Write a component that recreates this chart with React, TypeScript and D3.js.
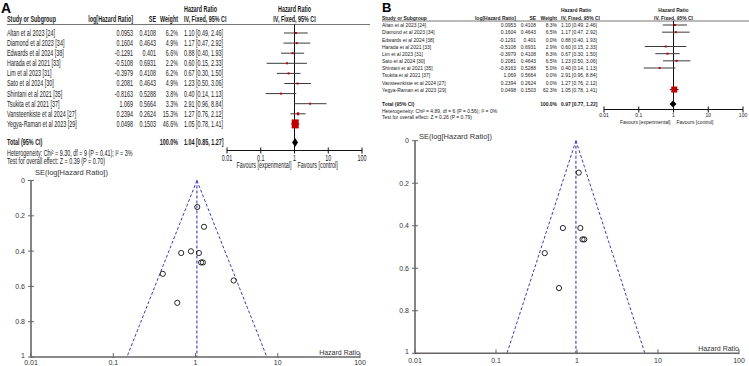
import React from "react";
import * as d3 from "d3";

// study level data, shared by both panels
const studies = [
  "Altan et al 2023 [24]",
  "Diamond et al 2023 [34]",
  "Edwards et al 2024 [38]",
  "Harada et al 2021 [33]",
  "Lim et al 2023 [31]",
  "Sato et al 2024 [30]",
  "Shintani et al  2021 [35]",
  "Tsukita et al 2021 [37]",
  "Vansteenkiste et al 2024 [27]",
  "Yegya-Raman et al  2023 [29]",
];
const logHR = [0.0953, 0.1604, -0.1291, -0.5108, -0.3979, 0.2081, -0.8163, 1.069, 0.2394, 0.0498];
const seValues = [0.4108, 0.4643, 0.401, 0.6931, 0.4108, 0.4643, 0.5288, 0.5664, 0.2624, 0.1503];
const hr = [1.1, 1.17, 0.88, 0.6, 0.67, 1.23, 0.4, 2.91, 1.27, 1.05];
const hrLow = [0.49, 0.47, 0.4, 0.15, 0.3, 0.5, 0.14, 0.96, 0.76, 0.78];
const hrHigh = [2.46, 2.92, 1.93, 2.33, 1.5, 3.06, 1.13, 8.84, 2.12, 1.41];
const weightA = [6.2, 4.9, 6.6, 2.2, 6.2, 4.9, 3.8, 3.3, 15.3, 46.6];
const weightB = [8.3, 6.5, 0, 2.9, 8.3, 6.5, 5.0, 0, 0, 62.3];

// pooled estimate [HR, lower, upper]
const pooledA = [1.04, 0.85, 1.27];
const pooledB = [0.97, 0.77, 1.22];
const statsA = [
  "Heterogeneity: Chi\u00b2 = 9.30, df = 9 (P = 0.41); I\u00b2 = 3%",
  "Test for overall effect: Z = 0.39 (P = 0.70)",
];
const statsB = [
  "Heterogeneity: Chi\u00b2 = 4.89, df = 6 (P = 0.56); I\u00b2 = 0%",
  "Test for overall effect: Z = 0.26 (P = 0.79)",
];

const hrTicks = [0.01, 0.1, 1, 10, 100];
const seTicks = [0, 0.2, 0.4, 0.6, 0.8, 1];

const FONT = "'Liberation Sans', Arial, sans-serif";
const fmt2 = d3.format(".2f");
const fmtTick = (v: number) => (v < 1 ? String(v) : d3.format("d")(v));

type TxtProps = {
  x: number;
  y: number;
  fs: number;
  sx?: number;
  anchor?: "start" | "middle" | "end";
  bold?: boolean;
  fill?: string;
  children: React.ReactNode;
};

const Txt = ({ x, y, fs, sx = 1, anchor = "start", bold = false, fill = "#1a1a1a", children }: TxtProps) => (
  <text
    transform={`translate(${x},${y}) scale(${sx},1)`}
    fontSize={fs}
    fontFamily={FONT}
    textAnchor={anchor}
    dominantBaseline="central"
    fontWeight={bold ? "bold" : "normal"}
    fill={fill}
  >
    {children}
  </text>
);

type ForestLayout = {
  x0: number;
  right: number;
  colLog: number;
  colSE: number;
  colW: number;
  colHR: number;
  axisL: number;
  axisR: number;
  hdr1: number;
  hdr2: number;
  line: number;
  row0: number;
  rowStep: number;
  total: number;
  het: number;
  test: number;
  axisY: number;
  tickY: number;
  favY: number;
  fs: number;
  sx: number;
  sqW: number;
  sqH: number;
  dH: number;
  weights: number[];
  pooled: number[];
  stats: string[];
};

function Forest({ L }: { L: ForestLayout }) {
  const x = d3.scaleLog().domain([0.01, 100]).range([L.axisL, L.axisR]);
  const rowY = (i: number) => L.row0 + i * L.rowStep;
  const maxW = d3.max(L.weights) as number;
  const sqW = d3.scaleLinear().domain([0, maxW]).range([0, L.sqW]);
  const sqH = d3.scaleLinear().domain([0, maxW]).range([0, L.sqH]);
  const t = { fs: L.fs, sx: L.sx };
  const [est, lo, hi] = L.pooled;
  const ty = L.total;

  return (
    <g>
      {/* headers */}
      <Txt x={L.colHR} y={L.hdr1} {...t} bold>Hazard Ratio</Txt>
      <Txt x={x(1)} y={L.hdr1} {...t} bold anchor="middle">Hazard Ratio</Txt>
      <Txt x={L.x0} y={L.hdr2} {...t} bold>Study or Subgroup</Txt>
      <Txt x={L.colLog} y={L.hdr2} {...t} bold anchor="end">log[Hazard Ratio]</Txt>
      <Txt x={L.colSE} y={L.hdr2} {...t} bold anchor="end">SE</Txt>
      <Txt x={L.colW} y={L.hdr2} {...t} bold anchor="end">Weight</Txt>
      <Txt x={L.colHR} y={L.hdr2} {...t} bold>IV, Fixed, 95% CI</Txt>
      <Txt x={x(1)} y={L.hdr2} {...t} bold anchor="middle">IV, Fixed, 95% CI</Txt>
      <line x1={L.x0} x2={L.right} y1={L.line} y2={L.line} stroke="#777" strokeWidth={1} />

      {/* no effect line */}
      <line x1={x(1)} x2={x(1)} y1={L.line} y2={L.axisY} stroke="#111" strokeWidth={1} />

      {studies.map((s, i) => {
        const y = rowY(i);
        const w = L.weights[i];
        const bw = Math.max(2, sqW(w));
        const bh = Math.max(2, sqH(w));
        return (
          <g key={s}>
            <Txt x={L.x0} y={y} {...t}>{s}</Txt>
            <Txt x={L.colLog} y={y} {...t} anchor="end">{String(logHR[i])}</Txt>
            <Txt x={L.colSE} y={y} {...t} anchor="end">{String(seValues[i])}</Txt>
            <Txt x={L.colW} y={y} {...t} anchor="end">{`${w.toFixed(1)}%`}</Txt>
            <Txt x={L.colHR} y={y} {...t}>{`${fmt2(hr[i])} [${fmt2(hrLow[i])}, ${fmt2(hrHigh[i])}]`}</Txt>
            {w > 0 && (
              <>
                <line x1={x(hrLow[i])} x2={x(hrHigh[i])} y1={y} y2={y} stroke="#3a3a3a" strokeWidth={1} />
                <rect x={x(hr[i]) - bw / 2} y={y - bh / 2} width={bw} height={bh} fill="#c00000" />
              </>
            )}
          </g>
        );
      })}

      {/* pooled row */}
      <Txt x={L.x0} y={ty} {...t} bold>Total (95% CI)</Txt>
      <Txt x={L.colW} y={ty} {...t} bold anchor="end">100.0%</Txt>
      <Txt x={L.colHR} y={ty} {...t} bold>{`${fmt2(est)} [${fmt2(lo)}, ${fmt2(hi)}]`}</Txt>
      <polygon
        points={`${x(lo)},${ty} ${x(est)},${ty - L.dH} ${x(hi)},${ty} ${x(est)},${ty + L.dH}`}
        fill="#000"
      />
      <Txt x={L.x0} y={L.het} {...t}>{L.stats[0]}</Txt>
      <Txt x={L.x0} y={L.test} {...t}>{L.stats[1]}</Txt>

      {/* axis */}
      <line x1={L.axisL} x2={L.axisR} y1={L.axisY} y2={L.axisY} stroke="#111" strokeWidth={1} />
      {hrTicks.map((v) => (
        <g key={v}>
          <line x1={x(v)} x2={x(v)} y1={L.axisY - 3} y2={L.axisY + 3} stroke="#111" strokeWidth={1} />
          <Txt x={x(v)} y={L.tickY} {...t} anchor="middle">{fmtTick(v)}</Txt>
        </g>
      ))}
      <Txt x={x(1) - 3} y={L.favY} {...t} anchor="end">Favours [experimental]</Txt>
      <Txt x={x(1) + 3} y={L.favY} {...t}>Favours [control]</Txt>
    </g>
  );
}

type FunnelLayout = {
  left: number;
  right: number;
  top: number;
  bottom: number;
  labY: number;
  titleDy: number;
  fs: number;
  weights: number[];
  est: number;
};

function Funnel({ F }: { F: FunnelLayout }) {
  const x = d3.scaleLog().domain([0.01, 100]).range([F.left, F.right]);
  const y = d3.scaleLinear().domain([0, 1]).range([F.top, F.bottom]);
  const blue = "#3b3bb8";
  const lim = 1.96;
  const pts = studies.map((_, i) => i).filter((i) => F.weights[i] > 0);
  return (
    <g>
      <line x1={x(F.est)} x2={x(F.est)} y1={y(0)} y2={y(1)} stroke={blue} strokeWidth={1.1} strokeDasharray="3,2" />
      <line x1={x(F.est)} x2={x(F.est * Math.exp(-lim))} y1={y(0)} y2={y(1)} stroke={blue} strokeWidth={1} strokeDasharray="3,2" />
      <line x1={x(F.est)} x2={x(F.est * Math.exp(lim))} y1={y(0)} y2={y(1)} stroke={blue} strokeWidth={1} strokeDasharray="3,2" />

      {pts.map((i) => (
        <circle key={i} cx={x(hr[i])} cy={y(seValues[i])} r={2.6} fill="none" stroke="#111" strokeWidth={0.9} />
      ))}

      <line x1={F.left} x2={F.left} y1={y(0)} y2={y(1)} stroke="#666" strokeWidth={1.6} />
      <line x1={F.left} x2={F.right} y1={y(1)} y2={y(1)} stroke="#666" strokeWidth={1.6} />
      {seTicks.map((v) => (
        <g key={v}>
          <line x1={F.left - 3} x2={F.left + 3} y1={y(v)} y2={y(v)} stroke="#666" strokeWidth={1} />
          <Txt x={F.left - 6} y={v === 1 ? y(v) - 2 : y(v)} fs={F.fs} anchor="end" fill="#333">{String(v)}</Txt>
        </g>
      ))}
      {hrTicks.map((v) => (
        <g key={v}>
          <line x1={x(v)} x2={x(v)} y1={y(1) - 4} y2={y(1) + 1} stroke="#666" strokeWidth={1} />
          <Txt x={x(v)} y={F.labY} fs={F.fs} anchor="middle" fill="#333">{fmtTick(v)}</Txt>
        </g>
      ))}
      <Txt x={F.left + 4} y={F.top + F.titleDy} fs={F.fs + 0.5} fill="#333">SE(log[Hazard Ratio])</Txt>
      <Txt x={F.right} y={y(1) - 5} fs={F.fs} anchor="end" fill="#333">Hazard Ratio</Txt>
    </g>
  );
}

const forestA: ForestLayout = {
  x0: 7, right: 370, colLog: 133, colSE: 156, colW: 178, colHR: 184,
  axisL: 227, axisR: 362,
  hdr1: 9, hdr2: 19, line: 24.5, row0: 33, rowStep: 10.1,
  total: 142.5, het: 153, test: 161.5, axisY: 150.5, tickY: 158.5, favY: 165.5,
  fs: 8.2, sx: 0.66, sqW: 7, sqH: 9, dH: 4.5,
  weights: weightA, pooled: pooledA, stats: statsA,
};

const forestB: ForestLayout = {
  x0: 382, right: 749, colLog: 516, colSE: 536, colW: 557, colHR: 561,
  axisL: 604, axisR: 743,
  hdr1: 10, hdr2: 17.5, line: 21, row0: 25, rowStep: 7.17,
  total: 104, het: 110.5, test: 116.5, axisY: 109.5, tickY: 115, favY: 122,
  fs: 6.2, sx: 0.8, sqW: 6, sqH: 6, dH: 3.5,
  weights: weightB, pooled: pooledB, stats: statsB,
};

const funnelA: FunnelLayout = {
  left: 31, right: 360, top: 180.5, bottom: 357, labY: 362, titleDy: -8.5, fs: 7,
  weights: weightA, est: pooledA[0],
};

const funnelB: FunnelLayout = {
  left: 415, right: 739, top: 140.7, bottom: 353.3, labY: 360, titleDy: -4, fs: 7,
  weights: weightB, est: pooledB[0],
};

export default function App() {
  return (
    <svg
      width={749}
      height={366}
      style={{ position: "absolute", left: 0, top: 0, background: "#fff" }}
    >
      <text x={1} y={13} fontSize={14} fontWeight="bold" fontFamily={FONT}>A</text>
      <text x={382} y={12} fontSize={13} fontWeight="bold" fontFamily={FONT}>B</text>
      <Forest L={forestA} />
      <Forest L={forestB} />
      <Funnel F={funnelA} />
      <Funnel F={funnelB} />
    </svg>
  );
}
